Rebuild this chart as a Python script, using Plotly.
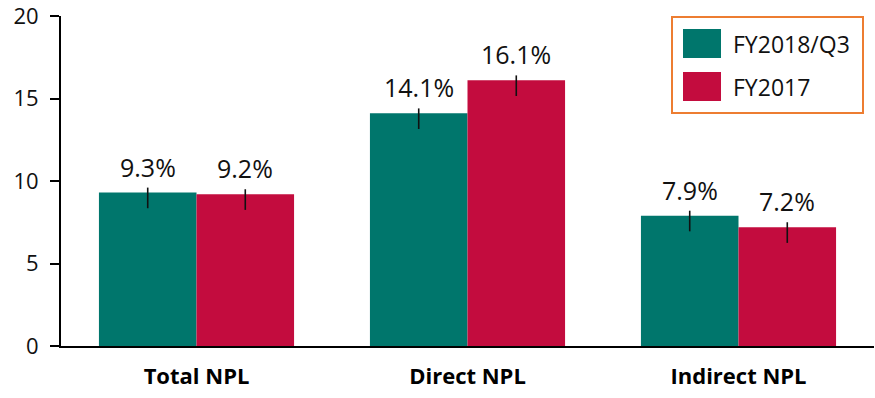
import plotly.graph_objects as go

# Non-performing loan ratios by category
categories = ["Total NPL", "Direct NPL", "Indirect NPL"]
series_names = ["FY2018/Q3", "FY2017"]
fy2018_q3 = [9.3, 14.1, 7.9]
fy2017 = [9.2, 16.1, 7.2]
# whisker extents above / below each bar top
err_plus = [0.3, 0.3, 0.3]
err_minus = [0.95, 0.95, 0.95]

y_ticks = [0, 5, 10, 15, 20]

colors = ["#00766C", "#C30C3E"]
font_family = "Open Sans, Noto Sans, sans-serif"

fig = go.Figure()
for name, vals, col in zip(series_names, [fy2018_q3, fy2017], colors):
    fig.add_trace(go.Bar(
        x=categories, y=vals, name=name,
        marker=dict(color=col, line=dict(width=0)),
        error_y=dict(type="data", symmetric=False, array=err_plus,
                     arrayminus=err_minus, color="#111111",
                     thickness=1.6, width=0),
        showlegend=False,
    ))

# value labels above each bar
bar_half_px = 48.5
for vals, shift in zip([fy2018_q3, fy2017], [-bar_half_px, bar_half_px]):
    for cat, v in zip(categories, vals):
        fig.add_annotation(
            x=cat, y=v, xref="x", yref="y", text=f"{v:.1f}%",
            showarrow=False, xshift=shift, yshift=7, yanchor="bottom",
            font=dict(family=font_family, size=25, color="#111111"),
        )

# boxed legend with large swatches
legend_x0, legend_x1 = (672 - 61) / 813, (863 - 61) / 813
plot_h = 330
def py(pix):
    return (346 - pix) / plot_h

fig.add_shape(type="rect", xref="paper", yref="paper",
              x0=legend_x0, x1=legend_x1, y0=py(113), y1=py(17),
              line=dict(color="#ED7D31", width=2), fillcolor="white", layer="above")
for i, (name, col) in enumerate(zip(series_names, colors)):
    top = 29 + i * 43
    fig.add_shape(type="rect", xref="paper", yref="paper",
                  x0=(683 - 61) / 813, x1=(721 - 61) / 813,
                  y0=py(top + 29), y1=py(top),
                  line=dict(width=0), fillcolor=col, layer="above")
    fig.add_annotation(x=(731 - 61) / 813, y=py(top + 14.5), xref="paper", yref="paper",
                       text=name, showarrow=False, xanchor="left", yanchor="middle",
                       font=dict(family=font_family, size=23, color="#111111"))

fig.update_layout(
    width=875, height=398,
    margin=dict(l=61, r=1, t=16, b=52),
    paper_bgcolor="white", plot_bgcolor="white",
    barmode="group", bargap=0.28, bargroupgap=0,
    font=dict(family=font_family, color="#111111"),
)
fig.update_xaxes(
    showline=True, linecolor="#000000", linewidth=2,
    ticks="", showgrid=False,
    tickfont=dict(family="Open Sans, sans-serif", size=22, color="#000000", weight="bold"),
    ticklabelstandoff=10,
)
fig.update_yaxes(
    range=[0, 20], tickvals=y_ticks, showline=True, linecolor="#000000",
    linewidth=2, ticks="outside", ticklen=9, tickwidth=2, tickcolor="#000000",
    showgrid=False, zeroline=False, ticklabeloverflow="allow",
    tickfont=dict(family=font_family, size=22, color="#111111"),
    ticklabelstandoff=7,
)

fig.write_html("out.html")
